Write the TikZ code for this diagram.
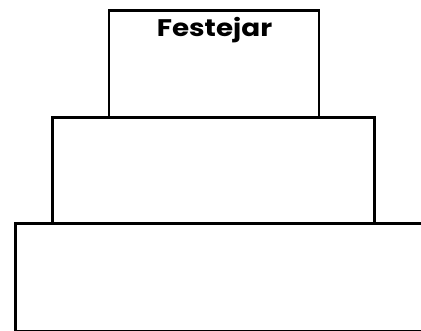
\documentclass[tikz,border=0pt]{standalone}
\usepackage{fontspec}
\setmainfont{Poppins}
\newfontfamily\titlefont[FakeStretch=1.16]{Poppins}
\usetikzlibrary{positioning}

\begin{document}
\begin{tikzpicture}[x=1pt, y=-1pt,
    tier/.style={draw, line width=2.6pt, anchor=north west, inner sep=0pt},
    title/.style={font=\titlefont\fontsize{24}{28}\selectfont\bfseries, anchor=base, inner sep=0pt},
]
\useasboundingbox (0,0) rectangle (421,331);

% --- Cake tiers ---
\node[tier, minimum width=210pt, minimum height=106.5pt] (tier_top) at (107.5,9.5) {};
\node[tier, minimum width=322pt, minimum height=106.5pt] (tier_mid) at (51,116) {};
\node[tier, minimum width=426pt, minimum height=107.5pt] (tier_low) at (14,222.5) {};

% Title on top tier
\node[title] (festejar) at (214.5,37) {Festejar};

\end{tikzpicture}
\end{document}
